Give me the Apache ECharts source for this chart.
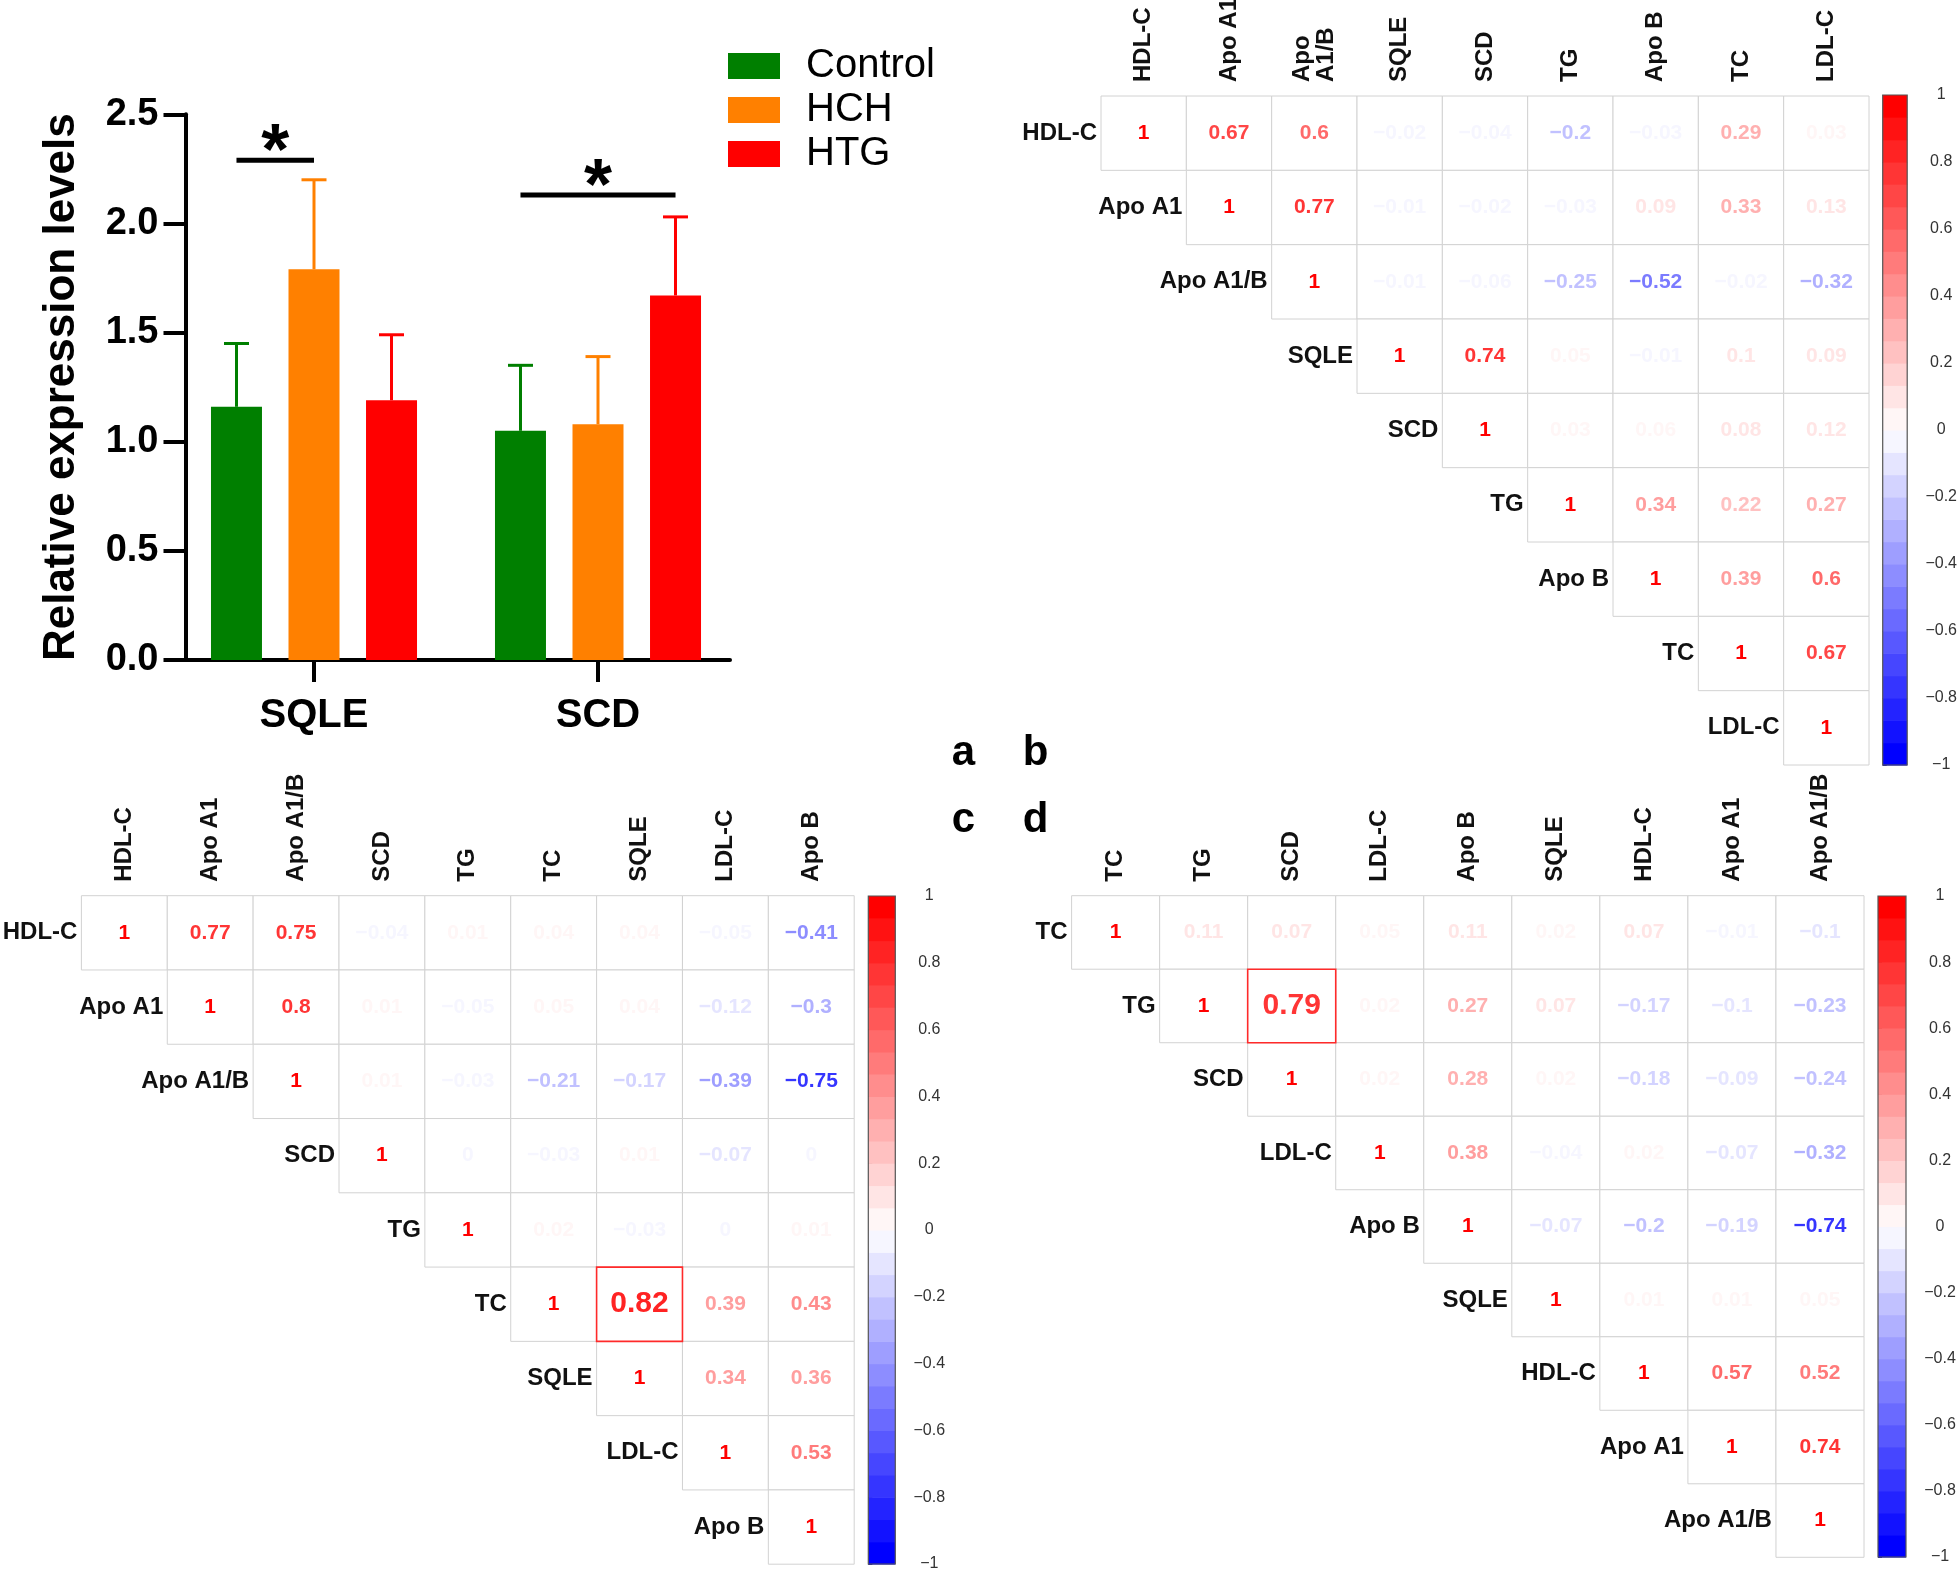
<!DOCTYPE html>
<html><head><meta charset="utf-8">
<script src="https://cdn.jsdelivr.net/npm/echarts@6/dist/echarts.min.js"></script>
<style>html,body{margin:0;padding:0;background:#fff}#chart{width:1960px;height:1572px}</style>
</head><body><div id="chart"></div>
<script>
const FONT = 'Arial, "Liberation Sans", Helvetica, sans-serif';

// ---------- Panel a: bar chart data ----------
const genes = ['SQLE', 'SCD'];
const groupNames = ['Control', 'HCH', 'HTG'];
const controlMean = [1.16, 1.05];
const hchMean = [1.79, 1.08];
const htgMean = [1.19, 1.67];
const controlUpper = [1.45, 1.35];
const hchUpper = [2.20, 1.39];
const htgUpper = [1.49, 2.03];
const groupColors = ['#007f00', '#ff8000', '#ff0000'];
// significance: [gene index, from group, to group, line height]
const sigBars = [[0, 0, 1, 2.29], [1, 0, 2, 2.13]];

// ---------- Panel b ----------
const namesB = ['HDL-C', 'Apo A1', 'Apo A1/B', 'SQLE', 'SCD', 'TG', 'Apo B', 'TC', 'LDL-C'];
const colLabelsB = ['HDL-C', 'Apo A1', 'Apo\nA1/B', 'SQLE', 'SCD', 'TG', 'Apo B', 'TC', 'LDL-C'];
const corrB = [
  [1, 0.67, 0.6, -0.02, -0.04, -0.2, -0.03, 0.29, 0.03],
  [1, 0.77, -0.01, -0.02, -0.03, 0.09, 0.33, 0.13],
  [1, -0.01, -0.06, -0.25, -0.52, -0.02, -0.32],
  [1, 0.74, 0.05, -0.01, 0.1, 0.09],
  [1, 0.03, 0.06, 0.08, 0.12],
  [1, 0.34, 0.22, 0.27],
  [1, 0.39, 0.6],
  [1, 0.67],
  [1]
];
const highlightB = null;

// ---------- Panel c ----------
const namesC = ['HDL-C', 'Apo A1', 'Apo A1/B', 'SCD', 'TG', 'TC', 'SQLE', 'LDL-C', 'Apo B'];
const colLabelsC = namesC;
const corrC = [
  [1, 0.77, 0.75, -0.04, 0.01, 0.04, 0.04, -0.05, -0.41],
  [1, 0.8, 0.01, -0.05, 0.05, 0.04, -0.12, -0.3],
  [1, 0.01, -0.03, -0.21, -0.17, -0.39, -0.75],
  [1, 0, -0.03, 0.01, -0.07, 0],
  [1, 0.02, -0.03, 0, 0.01],
  [1, 0.82, 0.39, 0.43],
  [1, 0.34, 0.36],
  [1, 0.53],
  [1]
];
const highlightC = ['TC', 'SQLE'];

// ---------- Panel d ----------
const namesD = ['TC', 'TG', 'SCD', 'LDL-C', 'Apo B', 'SQLE', 'HDL-C', 'Apo A1', 'Apo A1/B'];
const colLabelsD = namesD;
const corrD = [
  [1, 0.11, 0.07, 0.05, 0.11, 0.02, 0.07, -0.01, -0.1],
  [1, 0.79, 0.02, 0.27, 0.07, -0.17, -0.1, -0.23],
  [1, 0.02, 0.28, 0.02, -0.18, -0.09, -0.24],
  [1, 0.38, -0.04, 0.02, -0.07, -0.32],
  [1, -0.07, -0.2, -0.19, -0.74],
  [1, 0.01, 0.01, 0.05],
  [1, 0.57, 0.52],
  [1, 0.74],
  [1]
];
const highlightD = ['TG', 'SCD'];

// colour scale (blue-white-red, 30 steps)
const NCOL = 30;
function paletteColor(k) {
  const t = k / (NCOL - 1);
  let r, g, b;
  if (t < 0.5) { const f = t / 0.5; r = g = Math.round(255 * f); b = 255; }
  else { const f = (t - 0.5) / 0.5; r = 255; g = b = Math.round(255 * (1 - f)); }
  return 'rgb(' + r + ',' + g + ',' + b + ')';
}
function corColor(v) {
  let idx = Math.ceil((v + 1) / 2 * NCOL);
  idx = Math.max(1, Math.min(NCOL, idx));
  return paletteColor(idx - 1);
}
function fmt(v) {
  if (v === 0) return '0';
  return (v < 0 ? '\u2212' : '') + String(Math.abs(v));
}

const BAR_W = 51, BAR_GAP = '52%';
const LABEL_FONT = 'bold 24px ' + FONT;

const option = {
  backgroundColor: '#fff',
  animation: false,
  textStyle: { fontFamily: FONT },
  legend: {
    data: groupNames, orient: 'vertical', left: 723, top: 39, itemWidth: 52, itemHeight: 26, itemGap: 0,
    icon: 'rect', selectedMode: false,
    textStyle: { fontSize: 40, color: '#000', fontFamily: FONT, lineHeight: 44, padding: [0, 0, 0, 21] }
  },
  grid: [], xAxis: [], yAxis: [], series: [],
  graphic: [
    { type: 'text', x: 951.7, y: 753.4, style: { text: 'a', font: 'bold 42px ' + FONT, fill: '#000', align: 'left', verticalAlign: 'middle' } },
    { type: 'text', x: 1022.7, y: 753.4, style: { text: 'b', font: 'bold 42px ' + FONT, fill: '#000', align: 'left', verticalAlign: 'middle' } },
    { type: 'text', x: 951.7, y: 820.4, style: { text: 'c', font: 'bold 42px ' + FONT, fill: '#000', align: 'left', verticalAlign: 'middle' } },
    { type: 'text', x: 1022.7, y: 820.4, style: { text: 'd', font: 'bold 42px ' + FONT, fill: '#000', align: 'left', verticalAlign: 'middle' } }
  ]
};

// ---------- panel a ----------
// grid 0: bars (category bands), grid 1: visible axis frame
option.grid.push({ left: 172, top: 114.3, width: 568, height: 545.7 });
option.grid.push({ left: 185.5, top: 114.3, width: 544.5, height: 545.7 });
option.xAxis.push({
  gridIndex: 0, type: 'category', data: genes,
  axisLine: { show: false },
  axisTick: { show: true, alignWithLabel: true, length: 22, lineStyle: { color: '#000', width: 4 } },
  axisLabel: { fontSize: 40, fontWeight: 'bold', color: '#000', margin: 36, fontFamily: FONT }
});
option.yAxis.push({ gridIndex: 0, type: 'value', min: 0, max: 2.5, interval: 0.5, show: false });
option.xAxis.push({
  gridIndex: 1, type: 'category', data: genes,
  axisLine: { show: true, lineStyle: { color: '#000', width: 4 } },
  axisTick: { show: false }, axisLabel: { show: false }
});
option.yAxis.push({
  gridIndex: 1, type: 'value', min: 0, max: 2.5, interval: 0.5,
  name: 'Relative expression levels', nameLocation: 'middle', nameGap: 102,
  nameTextStyle: { fontSize: 44, fontWeight: 'bold', color: '#000', fontFamily: FONT },
  axisLine: { show: true, lineStyle: { color: '#000', width: 4 } },
  axisTick: { show: true, length: 22, lineStyle: { color: '#000', width: 4 } },
  axisLabel: { fontSize: 38, fontWeight: 'bold', color: '#000', margin: 27, fontFamily: FONT, formatter: v => v.toFixed(1) },
  splitLine: { show: false }
});
const means = [controlMean, hchMean, htgMean];
const uppers = [controlUpper, hchUpper, htgUpper];
groupNames.forEach((g, k) => {
  option.series.push({
    type: 'bar', name: g, xAxisIndex: 0, yAxisIndex: 0, data: means[k],
    barWidth: BAR_W, barGap: BAR_GAP, itemStyle: { color: groupColors[k] }, silent: true
  });
});
groupNames.forEach((g, k) => {
  option.series.push({
    type: 'custom', xAxisIndex: 0, yAxisIndex: 0, silent: true, z: 5, clip: false,
    data: genes.map((_, i) => [i, means[k][i], uppers[k][i]]),
    renderItem: (params, api) => {
      const lay = api.barLayout({ barWidth: BAR_W, barGap: BAR_GAP, count: 3 });
      const off = lay[k].offsetCenter;
      const p0 = api.coord([api.value(0), api.value(1)]);
      const p1 = api.coord([api.value(0), api.value(2)]);
      const x = p0[0] + off;
      const st = { stroke: groupColors[k], lineWidth: 3, fill: null };
      return { type: 'group', children: [
        { type: 'line', shape: { x1: x, y1: p0[1], x2: x, y2: p1[1] }, style: st },
        { type: 'line', shape: { x1: x - 12.5, y1: p1[1], x2: x + 12.5, y2: p1[1] }, style: st }
      ] };
    }
  });
});
option.series.push({
  type: 'custom', xAxisIndex: 0, yAxisIndex: 0, silent: true, z: 6, clip: false,
  data: sigBars,
  renderItem: (params, api) => {
    const lay = api.barLayout({ barWidth: BAR_W, barGap: BAR_GAP, count: 3 });
    const c = api.coord([api.value(0), api.value(3)]);
    const x0 = c[0] + lay[api.value(1)].offsetCenter;
    const x1 = c[0] + lay[api.value(2)].offsetCenter;
    return { type: 'group', children: [
      { type: 'line', shape: { x1: x0, y1: c[1], x2: x1, y2: c[1] }, style: { stroke: '#000', lineWidth: 5 } },
      { type: 'text', x: (x0 + x1) / 2, y: c[1] - 6, style: { text: '*', font: 'bold 72px ' + FONT, fill: '#000', align: 'center', verticalAlign: 'middle' } }
    ] };
  }
});

// ---------- matrices ----------
function addMatrix(names, colLabels, corr, highlight, L) {
  const gi = option.grid.length;
  option.grid.push({ left: L.left, top: L.top, width: L.width, height: L.height });
  option.xAxis.push({
    gridIndex: gi, type: 'category', data: names, position: 'top',
    axisLine: { show: false }, axisTick: { show: false }, splitLine: { show: false }, axisLabel: { show: false }
  });
  option.yAxis.push({
    gridIndex: gi, type: 'category', data: names, inverse: true,
    axisLine: { show: false }, axisTick: { show: false }, axisLabel: { show: false }, splitLine: { show: false }
  });
  const cells = [];
  const hot = [];
  corr.forEach((row, i) => {
    row.forEach((v, k) => {
      const j = i + k;
      const isHl = highlight && names[i] === highlight[0] && names[j] === highlight[1] ? 1 : 0;
      (isHl ? hot : cells).push([j, i, v, isHl]);
    });
  });
  option.series.push({
    type: 'custom', xAxisIndex: gi, yAxisIndex: gi, silent: true, clip: false,
    data: cells.concat(hot),
    renderItem: (params, api) => {
      const v = api.value(2), hl = api.value(3);
      const c = api.coord([api.value(0), api.value(1)]);
      const s = api.size([1, 1]);
      return { type: 'group', children: [
        { type: 'rect', shape: { x: c[0] - s[0] / 2, y: c[1] - s[1] / 2, width: s[0], height: s[1] },
          style: { fill: '#fff', stroke: hl ? '#ff2a2a' : '#d2d2d2', lineWidth: hl ? 1.6 : 1 }, z2: hl ? 10 : 0 },
        { type: 'text', x: c[0], y: c[1], z2: 11,
          style: { text: fmt(v), fill: corColor(v), font: 'bold ' + (hl ? 30 : 21) + 'px ' + FONT, align: 'center', verticalAlign: 'middle' } }
      ] };
    }
  });
  // row labels next to the diagonal
  option.series.push({
    type: 'custom', xAxisIndex: gi, yAxisIndex: gi, silent: true, clip: false,
    data: names.map((n, i) => [i, i]),
    renderItem: (params, api) => {
      const i = api.value(0);
      const c = api.coord([i, i]);
      const s = api.size([1, 1]);
      return { type: 'text', x: c[0] - s[0] / 2 - 4, y: c[1],
        style: { text: names[i], fill: '#111', font: LABEL_FONT, align: 'right', verticalAlign: 'middle' } };
    }
  });
  // column labels (rotated) above the first row
  option.series.push({
    type: 'custom', xAxisIndex: gi, yAxisIndex: gi, silent: true, clip: false,
    data: names.map((n, i) => [i, 0]),
    renderItem: (params, api) => {
      const j = api.value(0);
      const c = api.coord([j, 0]);
      const s = api.size([1, 1]);
      return { type: 'text', x: c[0], y: c[1] - s[1] / 2 - 14, rotation: Math.PI / 2,
        style: { text: colLabels[j], fill: '#111', font: LABEL_FONT, align: 'left', verticalAlign: 'middle', lineHeight: 24 } };
    }
  });
  // colour bar
  const ci = option.grid.length;
  option.grid.push({ left: L.cbLeft, top: L.cbTop, width: L.cbWidth, height: L.cbHeight });
  option.xAxis.push({ gridIndex: ci, type: 'value', min: 0, max: 1, show: false });
  option.yAxis.push({
    gridIndex: ci, type: 'value', min: -1, max: 1, interval: 0.2, position: 'right',
    axisLine: { show: false },
    axisTick: { show: true, length: 4, lineStyle: { color: '#444', width: 1 } },
    axisLabel: { align: 'center', margin: 34, fontSize: 16, color: '#333', fontFamily: FONT,
      formatter: v => fmt(Math.round(v * 10) / 10) },
    splitLine: { show: false }
  });
  const bands = [];
  for (let k = 0; k < NCOL; k++) bands.push([-1 + 2 * k / NCOL, -1 + 2 * (k + 1) / NCOL, k]);
  option.series.push({
    type: 'custom', xAxisIndex: ci, yAxisIndex: ci, silent: true, clip: false, data: bands,
    renderItem: (params, api) => {
      const a = api.coord([0, api.value(1)]), b = api.coord([1, api.value(0)]);
      return { type: 'rect', shape: { x: a[0], y: a[1], width: b[0] - a[0], height: b[1] - a[1] + 0.6 },
        style: { fill: paletteColor(api.value(2)) } };
    }
  });
  option.series.push({
    type: 'custom', xAxisIndex: ci, yAxisIndex: ci, silent: true, clip: false, z: 3, data: [[0, 1, 1, -1]],
    renderItem: (params, api) => {
      const a = api.coord([api.value(0), api.value(1)]), b = api.coord([api.value(2), api.value(3)]);
      return { type: 'rect', shape: { x: a[0], y: a[1], width: b[0] - a[0], height: b[1] - a[1] },
        style: { fill: null, stroke: '#555', lineWidth: 1.2 } };
    }
  });
}

addMatrix(namesB, colLabelsB, corrB, highlightB,
  { left: 1101, top: 96, width: 768, height: 669, cbLeft: 1882.7, cbTop: 95, cbWidth: 26.6, cbHeight: 670 });
addMatrix(namesC, colLabelsC, corrC, highlightC,
  { left: 81.4, top: 895.7, width: 772.8, height: 668.5, cbLeft: 868.3, cbTop: 896, cbWidth: 27, cbHeight: 668 });
addMatrix(namesD, colLabelsD, corrD, highlightD,
  { left: 1071.6, top: 895.7, width: 792.4, height: 661.6, cbLeft: 1878, cbTop: 896, cbWidth: 28, cbHeight: 661 });

const chart = echarts.init(document.getElementById('chart'), null, { renderer: 'canvas' });
chart.setOption(option);
</script>
</body></html>
